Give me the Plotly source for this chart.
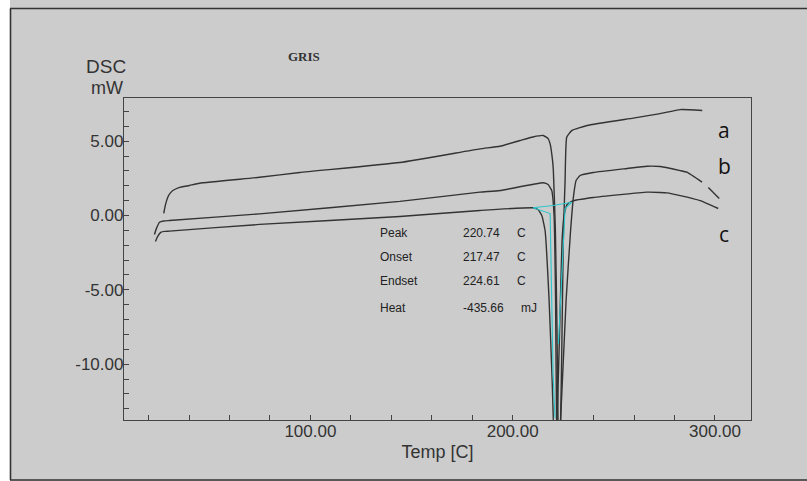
import plotly.graph_objects as go

# ---------------- data ----------------
a_temp = [27.5, 28.3, 29.5, 30.7, 32.0, 35.0, 40.2, 45.2, 74.9, 94.7, 144.2, 183.8, 193.7,
          203.6, 210.0, 215.1, 217.5, 218.5, 219.7, 220.1, 221.1, 221.9, 222.4, 222.9,
          223.7, 224.6, 225.1, 225.9, 226.7, 229.2, 236.8, 259.6, 272.9, 282.8, 293.7]
a_dsc = [0.15, 0.70, 1.23, 1.50, 1.68, 1.88, 2.02, 2.17, 2.57, 2.89, 3.56, 4.48, 4.66,
         5.04, 5.28, 5.38, 5.17, 4.82, 3.70, 3.02, -1.01, -7.7, -13.8, -16.0,
         -13.8, -5.7, -1.0, 2.35, 5.26, 5.71, 6.05, 6.55, 6.85, 7.12, 7.06]

b_temp = [22.9, 23.8, 25.4, 27.5, 30.3, 74.9, 144.2, 183.8, 193.7, 215.1, 217.5, 219.3,
          220.45, 221.2, 221.7, 222.6, 223.66, 226.39, 228.61, 230.1, 231.34, 233.32,
          239.8, 256.6, 266.3, 272.9, 282.8, 286.1, 293.6, None, 296.7, 302.1]
b_dsc = [-1.28, -0.90, -0.45, -0.37, -0.34, 0.11, 0.95, 1.57, 1.68, 2.20, 2.08, 1.68,
         0.0, -5.71, -13.78, -16.0, -13.78, -5.71, -1.01, 1.34, 2.35, 2.69,
         2.89, 3.16, 3.31, 3.29, 3.02, 2.91, 2.24, None, 1.88, 1.14]

c_temp = [23.4, 24.5, 26.2, 28.0, 30.3, 74.9, 144.2, 183.8, 210.05, 212.5, 214.4, 216.0,
          218.0, 219.5, 220.1, 220.8, 221.9, 223.2, 224.4, 225.4, 226.9, 229.4, 239.8,
          266.3, 272.9, 276.2, 282.8, 292.7, 301.6]
c_dsc = [-1.75, -1.40, -1.12, -1.07, -1.05, -0.60, -0.07, 0.34, 0.52, 0.40, 0.0, -1.01,
         -5.71, -11.09, -13.78, -16.0, -13.78, -7.73, -1.68, 0.0, 0.74, 0.97, 1.21,
         1.57, 1.55, 1.52, 1.34, 1.00, 0.47]

# analysis construction lines (baseline and tangents)
base_temp = [210.05, 219.9, 229.2]
base_dsc = [0.52, 0.67, 0.89]
left_tan_temp = [210.05, 218.5, 219.95, 220.9]
left_tan_dsc = [0.52, 0.13, -10.6, -13.6]
right_tan_temp = [229.2, 225.9, 222.6]
right_tan_dsc = [0.89, 0.47, -8.62]

curve_labels = ["a", "b", "c"]
stat_names = ["Peak", "Onset", "Endset", "Heat"]
stat_values = ["220.74", "217.47", "224.61", "-435.66"]
stat_units = ["C", "C", "C", "mJ"]

x_tick_vals = [100, 200, 300]
x_tick_text = ["100.00", "200.00", "300.00"]
y_tick_vals = [5, 0, -5, -10]
y_tick_text = ["5.00", "0.00", "-5.00", "-10.00"]

# ---------------- figure ----------------
W, H = 807, 481
L, R, T, B = 124, 56, 98, 61
PW, PH = W - L - R, H - T - B


def px(x):
    return (x - L) / PW


def py(y):
    return (H - B - y) / PH


LINE = "#333333"
CYAN = "#2cc6cc"

fig = go.Figure()
for xs, ys in [(a_temp, a_dsc), (b_temp, b_dsc), (c_temp, c_dsc)]:
    fig.add_trace(go.Scatter(x=xs, y=ys, mode="lines", connectgaps=False,
                             line=dict(color=LINE, width=1.4, shape="spline", smoothing=0.4),
                             showlegend=False, hoverinfo="skip"))
for xs, ys in [(base_temp, base_dsc), (left_tan_temp, left_tan_dsc),
               (right_tan_temp, right_tan_dsc)]:
    fig.add_trace(go.Scatter(x=xs, y=ys, mode="lines",
                             line=dict(color=CYAN, width=1.1),
                             showlegend=False, hoverinfo="skip"))

tick_font = dict(family="Liberation Sans, Arial, sans-serif", size=17, color="#333333")

fig.update_xaxes(range=[7.85, 317.8], showgrid=False, zeroline=False,
                 showline=True, linecolor="#444444", linewidth=1.3, mirror=True,
                 tickmode="array", tickvals=x_tick_vals, ticktext=x_tick_text,
                 ticks="inside", ticklen=5, tickcolor="#444444", tickwidth=1.2,
                 minor=dict(dtick=20, tick0=0, ticks="inside", ticklen=5,
                            tickcolor="#444444", tickwidth=1.2, showgrid=False),
                 tickfont=tick_font, ticklabelstandoff=-5,
                 title=dict(text="Temp [C]", font=dict(family="Liberation Sans, Arial, sans-serif",
                                                       size=18, color="#333333"), standoff=5))
fig.update_yaxes(range=[-13.75, 7.9], showgrid=False, zeroline=False,
                 showline=True, linecolor="#444444", linewidth=1.3, mirror=True,
                 tickmode="array", tickvals=y_tick_vals, ticktext=y_tick_text,
                 ticks="inside", ticklen=5, tickcolor="#444444", tickwidth=1.2,
                 minor=dict(dtick=1, tick0=0, ticks="inside", ticklen=5,
                            tickcolor="#444444", tickwidth=1.2, showgrid=False),
                 tickfont=tick_font, ticklabelstandoff=-4)

shapes = [
    dict(type="rect", xref="paper", yref="paper", x0=px(0), x1=px(10), y0=py(H), y1=py(0),
         fillcolor="white", line=dict(width=0), layer="above"),
    dict(type="line", xref="paper", yref="paper", x0=px(10.5), x1=px(10.5), y0=py(8.5), y1=py(480),
         line=dict(color="#333333", width=1.6)),
    dict(type="line", xref="paper", yref="paper", x0=px(10), x1=px(W), y0=py(8.5), y1=py(8.5),
         line=dict(color="#333333", width=1.6)),
    dict(type="line", xref="paper", yref="paper", x0=px(10), x1=px(W), y0=py(480), y1=py(480),
         line=dict(color="#333333", width=1.6)),
]

ann = []
ann.append(dict(text="DSC", x=px(106), y=py(66), xref="paper", yref="paper", showarrow=False,
                xanchor="center", yanchor="middle",
                font=dict(family="Liberation Sans, Arial, sans-serif", size=19, color="#333333")))
ann.append(dict(text="mW", x=px(107), y=py(88), xref="paper", yref="paper", showarrow=False,
                xanchor="center", yanchor="middle",
                font=dict(family="Liberation Sans, Arial, sans-serif", size=18, color="#333333")))
ann.append(dict(text="<b>GRIS</b>", x=px(304), y=py(56), xref="paper", yref="paper", showarrow=False,
                xanchor="center", yanchor="middle",
                font=dict(family="Liberation Serif, Times New Roman, serif", size=13, color="#333333")))
for lab, yy in zip(curve_labels, [129.5, 166, 233.5]):
    ann.append(dict(text=lab, x=px(724), y=py(yy), xref="paper", yref="paper", showarrow=False,
                    xanchor="center", yanchor="middle",
                    font=dict(family="Open Sans, DejaVu Sans, sans-serif", size=21, color="#111111")))
stat_font = dict(family="Liberation Sans, Arial, sans-serif", size=12, color="#222222")
for name, val, unit, yy in zip(stat_names, stat_values, stat_units, [232.7, 256.7, 281, 307.7]):
    ann.append(dict(text=name, x=px(378), y=py(yy), xref="paper", yref="paper", showarrow=False,
                    xanchor="left", yanchor="middle", font=stat_font))
    ann.append(dict(text=val, x=px(461), y=py(yy), xref="paper", yref="paper", showarrow=False,
                    xanchor="left", yanchor="middle", font=stat_font))
    ann.append(dict(text=unit, x=px(515 if unit == "C" else 519), y=py(yy), xref="paper",
                    yref="paper", showarrow=False, xanchor="left", yanchor="middle", font=stat_font))

fig.update_layout(width=W, height=H, autosize=False,
                  margin=dict(l=L, r=R, t=T, b=B, pad=0),
                  paper_bgcolor="#cccccc", plot_bgcolor="#cccccc",
                  shapes=shapes, annotations=ann, showlegend=False)

fig.write_html("out.html", config={"displayModeBar": False},
               post_script="document.body.style.margin='0px';document.body.style.overflow='hidden';")
